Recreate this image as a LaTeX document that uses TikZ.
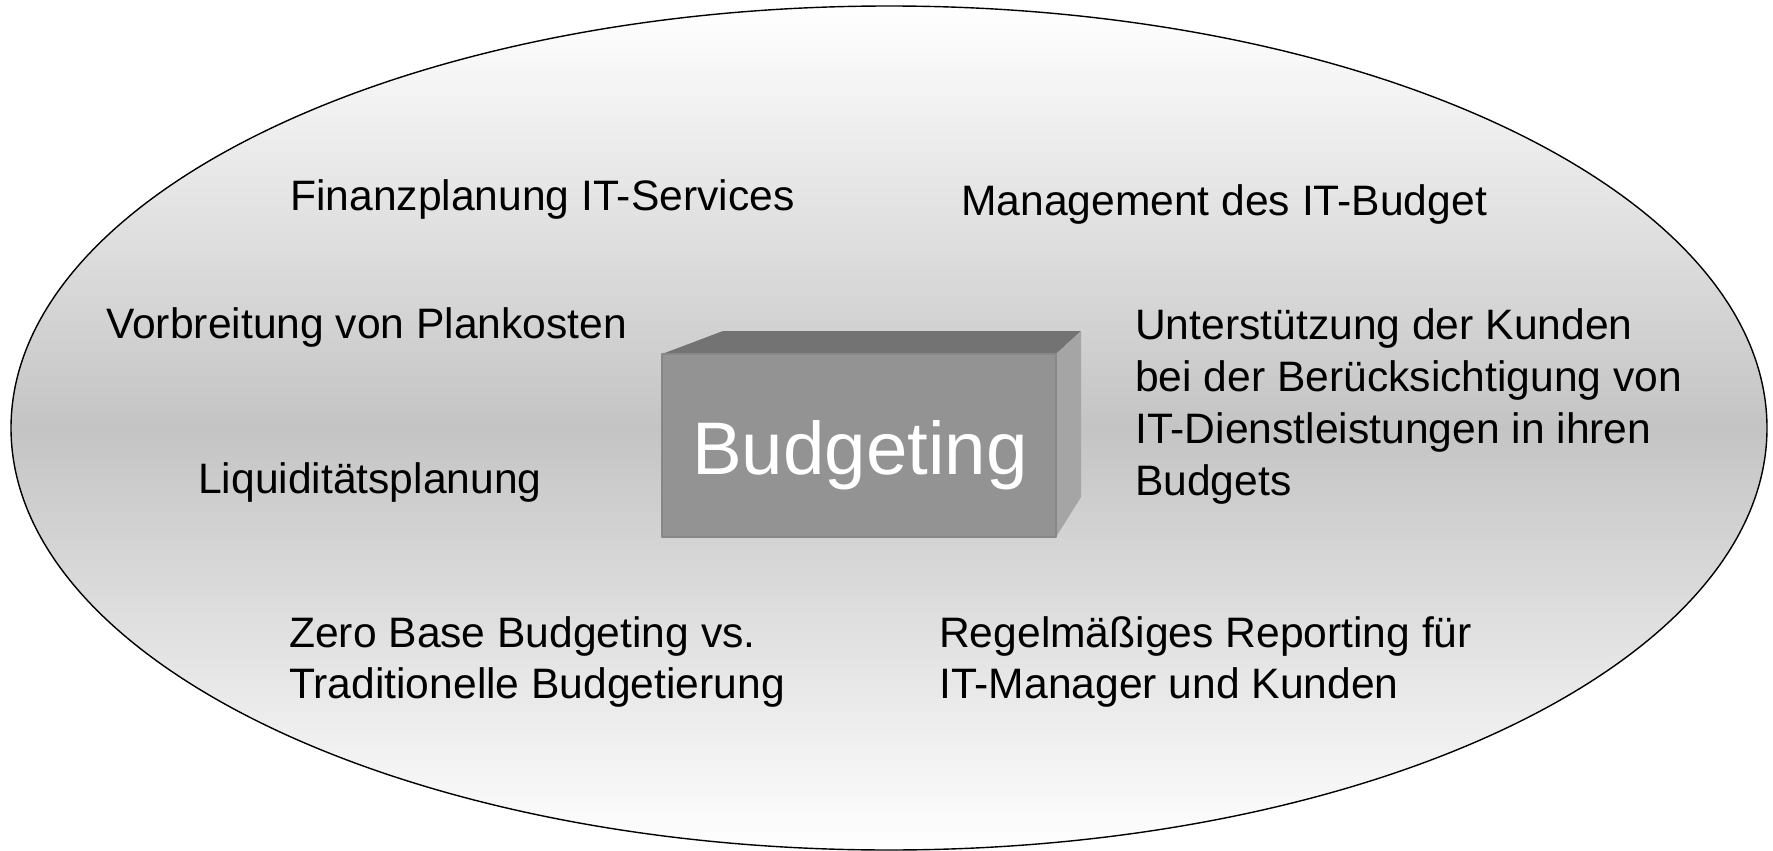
\documentclass[tikz,border=0pt]{standalone}
\usepackage{fontspec}
\setmainfont{Liberation Sans}
\definecolor{ellmid}{RGB}{196,196,196}
\definecolor{frontc}{RGB}{147,147,147}
\definecolor{topc}{RGB}{115,115,115}
\definecolor{sidec}{RGB}{165,165,165}
\definecolor{edgec}{RGB}{135,135,135}
\tikzset{
  lbl/.style={anchor=base west, inner sep=0pt, font=\fontsize{42.6}{52}\selectfont, text=black},
  face/.style={draw=edgec, line width=1.2pt, line join=round},
}
\begin{document}
\begin{tikzpicture}[x=1pt,y=-1pt]
\useasboundingbox (0,0) rectangle (1773,851);
% ellipse
\path[top color=white, bottom color=white, middle color=ellmid]
  (889,428) ellipse [x radius=878, y radius=422];
\draw[black, line width=1.4pt] (889,428) ellipse [x radius=878, y radius=422];
% box
\fill[topc] (662,354) -- (723,331) -- (1081,331) -- (1056,354) -- cycle;
\fill[sidec] (1056,354) -- (1081,331) -- (1081,497) -- (1056,537) -- cycle;
\draw[face, fill=frontc] (662,354) rectangle (1056,537);
\node[anchor=base, inner sep=0pt, text=white, font=\fontsize{74.5}{88}\selectfont] (budget) at (860,474) {Budgeting};
% labels
\node[lbl] (fin) at (290,210) {Finanzplanung IT-Services};
\node[lbl] (mgmt) at (961,215) {Management des IT-Budget};
\node[lbl] (vorb) at (106,338) {Vorbreitung von Plankosten};
\node[lbl] (liq) at (198,493) {Liquiditätsplanung};
\node[lbl] (unt1) at (1135,339) {Unterstützung der Kunden};
\node[lbl] (unt2) at (1135,391) {bei der Berücksichtigung von};
\node[lbl] (unt3) at (1135,443) {IT-Dienstleistungen in ihren};
\node[lbl] (unt4) at (1135,495) {Budgets};
\node[lbl] (zero1) at (289,647) {Zero Base Budgeting vs.};
\node[lbl] (zero2) at (289,698) {Traditionelle Budgetierung};
\node[lbl] (reg1) at (939,647) {Regelmäßiges Reporting für};
\node[lbl] (reg2) at (939,698) {IT-Manager und Kunden};
\end{tikzpicture}
\end{document}
